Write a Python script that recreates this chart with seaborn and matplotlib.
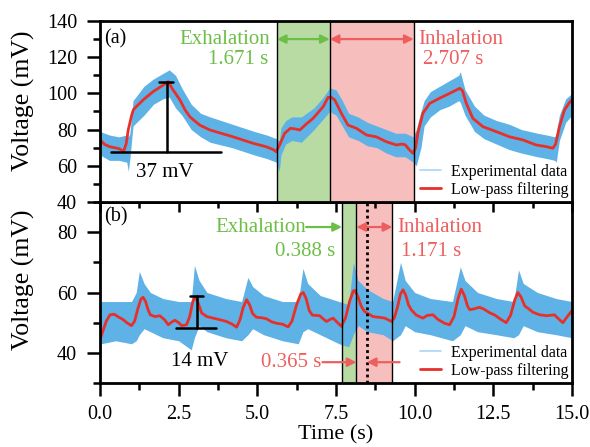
import numpy as np
import pandas as pd
import matplotlib
matplotlib.use("Agg")
import matplotlib.pyplot as plt
from matplotlib.lines import Line2D
import seaborn as sns

# ---------------- data ----------------
# Panel (a): low-pass filtered signal
a_t = [0.0, 0.15, 0.3, 0.6, 0.75, 0.83, 0.9, 1.0, 1.06, 1.2, 1.37, 1.69, 2.01, 2.17, 2.3, 2.54, 2.7,
       2.86, 3.17, 3.49, 4.23, 4.87, 5.29, 5.5, 5.6, 5.72, 5.87, 6.05, 6.2, 6.35, 6.55, 6.77, 7.09,
       7.25, 7.35, 7.46, 7.67, 7.88, 8.15, 8.47, 8.78, 9.1, 9.42, 9.6, 9.7, 9.84, 9.95, 10.03,
       10.1, 10.26, 10.48, 10.79, 11.11, 11.43, 11.52, 11.64, 11.85, 12.17, 12.59, 13.02, 13.44,
       13.86, 14.18, 14.39, 14.48, 14.6, 14.76, 14.9, 15.0]
a_filt = [74.3, 71.8, 70.6, 69.5, 68.0, 72.0, 80.0, 87.5, 91.0, 93.5, 96.4, 101.0, 104.6, 106.5, 102.5,
          96.4, 91.0, 87.0, 82.5, 79.8, 76.0, 72.4, 70.5, 69.0, 67.8, 72.0, 78.0, 80.7, 80.4, 79.8,
          83.0, 86.2, 92.6, 97.8, 97.8, 96.4, 89.0, 82.5, 80.7, 77.0, 76.0, 73.3, 71.5, 72.0, 71.6,
          68.7, 66.9, 70.0, 78.0, 89.0, 94.5, 97.3, 100.0, 102.8, 101.5, 94.5, 86.2, 81.6, 78.9,
          76.0, 74.3, 71.5, 70.6, 69.7, 72.0, 81.6, 90.8, 94.5, 96.5]
# Panel (a): envelope of the raw experimental data
a_band_t = [0.0, 0.3, 0.6, 0.85, 0.9, 0.95, 1.05, 1.4, 1.7, 2.0, 2.2, 2.4, 2.6, 2.9, 3.2, 3.5, 4.2,
            4.9, 5.3, 5.6, 5.7, 5.75, 5.9, 6.1, 6.4, 6.8, 7.1, 7.3, 7.5, 7.7, 7.9, 8.2, 8.5, 8.8,
            9.1, 9.4, 9.7, 9.95, 10.05, 10.2, 10.3, 10.5, 10.8, 11.1, 11.4, 11.45, 11.6, 11.9,
            12.2, 12.6, 13.0, 13.4, 13.9, 14.2, 14.45, 14.5, 14.6, 14.8, 15.0]
a_upper = [79, 77, 76, 77, 76, 78, 96, 104, 108, 111, 113, 110, 103, 94, 89, 87, 83,
           79, 77, 75, 74, 81, 85, 87, 87, 92, 98, 103, 102, 96, 89, 87, 84, 82,
           80, 78, 78, 76, 80, 90, 96, 101, 104, 107, 110, 112, 102, 93,
           88, 85, 83, 80, 78, 77, 76, 78, 88, 97, 100]
a_lower = [66, 63, 63, 62, 57, 64, 82, 88, 94, 97, 98, 92, 88, 80, 76, 73, 70,
           66, 64, 62, 57, 66, 72, 74, 73, 80, 86, 90, 88, 82, 76, 74, 71, 70,
           67, 65, 65, 62, 60, 70, 82, 87, 91, 93, 96, 95, 88, 79,
           75, 72, 69, 67, 65, 64, 63, 62, 74, 84, 88]

# Panel (b): low-pass filtered signal
b_t = [0.0, 0.1, 0.2, 0.32, 0.45, 0.6, 0.74, 0.85, 1.0, 1.1, 1.2, 1.3, 1.37, 1.45, 1.52, 1.6, 1.75,
       1.9, 2.05, 2.17, 2.28, 2.38, 2.5, 2.6, 2.75, 2.85, 2.95, 3.03, 3.12, 3.23, 3.4, 3.6, 3.8,
       4.02, 4.2, 4.34, 4.45, 4.55, 4.66, 4.75, 4.85, 4.97, 5.15, 5.29, 5.45, 5.61, 5.8, 5.98,
       6.1, 6.25, 6.38, 6.46, 6.55, 6.65, 6.75, 6.98, 7.1, 7.2, 7.3, 7.41, 7.55, 7.67, 7.8, 7.93,
       8.05, 8.1, 8.2, 8.3, 8.4, 8.55, 8.68, 8.85, 9.05, 9.15, 9.26, 9.35, 9.45, 9.55, 9.63,
       9.72, 9.8, 9.89, 10.05, 10.26, 10.4, 10.58, 10.75, 10.95, 11.11, 11.25, 11.38, 11.48,
       11.58, 11.68, 11.75, 11.9, 12.06, 12.2, 12.38, 12.55, 12.75, 12.91, 13.05, 13.18, 13.28,
       13.38, 13.5, 13.6, 13.75, 13.97, 14.2, 14.44, 14.6, 14.71, 14.85, 15.0]
b_filt = [44.4, 47.5, 50.5, 52.6, 52.8, 51.8, 51.0, 50.0, 49.0, 50.5, 54.5, 57.8, 58.4, 57.0, 54.5,
          52.6, 52.0, 52.3, 51.0, 49.3, 50.2, 50.8, 50.0, 49.0, 49.3, 52.0, 57.0, 58.7, 56.5, 53.2,
          52.0, 51.5, 51.0, 50.4, 49.5, 48.5, 51.0, 55.0, 57.6, 56.0, 53.0, 51.8, 51.6, 51.3, 50.3,
          49.8, 49.5, 48.6, 50.5, 56.0, 59.5, 60.0, 58.0, 54.0, 52.5, 52.3, 51.2, 50.4, 51.0, 51.5,
          50.0, 48.8, 51.5, 57.0, 60.5, 60.7, 58.5, 55.5, 53.8, 52.8, 52.0, 51.8, 51.5, 51.0, 50.4,
          51.5, 55.0, 59.5, 60.9, 59.0, 56.0, 54.3, 52.5, 51.5, 52.4, 52.6, 51.0, 49.8, 49.3, 52.0,
          58.0, 61.1, 59.0, 55.5, 54.3, 54.6, 55.1, 54.5, 53.3, 52.5, 51.0, 50.0, 52.5, 57.5, 60.0,
          58.5, 55.5, 54.8, 53.5, 52.6, 52.3, 52.6, 51.0, 50.0, 52.0, 54.0]
# Panel (b): envelope of the raw experimental data
b_band_t = [0.0, 0.03, 0.5, 1.0, 1.15, 1.25, 1.4, 1.6, 2.0, 2.5, 2.9, 3.0, 3.15, 3.4, 4.0, 4.5,
            4.7, 4.85, 5.2, 5.8, 6.3, 6.45, 6.6, 7.0, 7.6, 7.9, 8.05, 8.2, 8.5, 9.0, 9.3, 9.55,
            9.7, 10.0, 10.5, 11.2, 11.45, 11.6, 12.0, 12.6, 13.15, 13.3, 13.45, 13.9, 14.5, 15.0]
b_upper = [57, 57, 57, 57, 60, 67, 63, 60, 58, 57, 57, 69, 64, 60, 58, 57,
           65, 62, 59, 57, 57, 68, 63, 59, 57, 56, 70, 64, 61, 58, 57, 70,
           64, 60, 58, 57, 68.5, 64, 60, 58, 57, 67.5, 63, 60, 58, 57]
b_lower = [30, 43, 44, 43, 44, 46, 48, 47, 45, 44, 41, 45, 49, 47, 45, 44,
           46, 48, 46, 44, 43, 47, 48, 46, 43, 42, 46, 49, 47, 46, 44, 46,
           49, 47, 46, 44, 46, 49, 47, 46, 45, 46, 49, 47, 46, 45]

# phase boundaries (s)
a_phase = [5.62, 7.30, 9.97]
b_phase = [7.69, 8.15, 9.29]
b_dotted = 8.48

x_ticks = [0.0, 2.5, 5.0, 7.5, 10.0, 12.5, 15.0]
x_ticklabels = ['0.0', '2.5', '5.0', '7.5', '10.0', '12.5', '15.0']
a_yticks = [40, 60, 80, 100, 120, 140]
b_yticks = [40, 60, 80]

# ---------------- style ----------------
sns.set_style("ticks")
plt.rcParams['font.family'] = ['Liberation Serif', 'DejaVu Serif']
plt.rcParams.update({'axes.edgecolor': 'black', 'xtick.color': 'black', 'ytick.color': 'black',
                     'text.color': 'black', 'axes.labelcolor': 'black'})

BLUE = '#5FB2E6'
BLUE_LEG = '#A9D5F3'
RED = '#E8302A'
GREEN_TXT = '#6DBE47'
RED_TXT = '#EE5E5E'
GREEN_FILL = '#B8DBA3'
PINK_FILL = '#F7BEBE'

fig = plt.figure(figsize=(5.9, 4.47), dpi=100)
L, W = 100 / 590, 472 / 590
axa = fig.add_axes([L, 1 - 202 / 447, W, 181 / 447])
axb = fig.add_axes([L, 1 - 383 / 447, W, 181 / 447])
axb.patch.set_alpha(0)
axa.set_zorder(2)
axa.patch.set_alpha(1)

df_a = pd.DataFrame({'t': a_t, 'v': a_filt})
df_b = pd.DataFrame({'t': b_t, 'v': b_filt})

for ax, ph, bt, up, lo, df in [(axa, a_phase, a_band_t, a_upper, a_lower, df_a),
                               (axb, b_phase, b_band_t, b_upper, b_lower, df_b)]:
    ax.axvspan(ph[0], ph[1], color=GREEN_FILL, lw=0, zorder=0)
    ax.axvspan(ph[1], ph[2], color=PINK_FILL, lw=0, zorder=0)
    ax.fill_between(bt, lo, up, color=BLUE, lw=0, zorder=1)
    sns.lineplot(data=df, x='t', y='v', ax=ax, color=RED, lw=2, zorder=2)
    for p in ph:
        ax.axvline(p, color='k', lw=1, zorder=3)
    ax.set_xlim(0, 15)
    ax.set_xticks(x_ticks)
    ax.set_xticks(np.arange(1.25, 15, 2.5), minor=True)
    for s in ax.spines.values():
        s.set_linewidth(2)
        s.set_visible(True)
        s.set_color('black')
    ax.set_xlabel('')
    ax.set_ylabel('Voltage (mV)', fontsize=18.5, color='black')
    handles = [Line2D([], [], color=BLUE_LEG, lw=1.2), Line2D([], [], color=RED, lw=2)]
    ax.legend(handles, ['Experimental data', 'Low-pass filtering'], loc='lower right',
              frameon=False, fontsize=11.5, handlelength=1.3, handletextpad=0.6,
              labelspacing=0.15, borderpad=0.15, borderaxespad=0.1, labelcolor='black')
    ax.tick_params(which='major', direction='out', length=9.5, width=1.8, labelsize=14.5,
                   colors='black')
    ax.tick_params(which='minor', direction='out', length=5, width=1.8, colors='black')
    ax.tick_params(axis='y', which='major', pad=7)
    ax.tick_params(axis='x', which='major', pad=6)

axb.axvline(b_dotted, color='k', lw=2, ls=(0, (1, 1.2)), zorder=3)

# axes, ticks
axa.set_ylim(40, 140)
axa.set_yticks(a_yticks)
axa.set_yticks(np.arange(50, 140, 20), minor=True)
axa.tick_params(axis='x', which='both', labelbottom=False)
axa.tick_params(axis='x', which='major', length=7)
axa.tick_params(axis='x', which='minor', length=4)
axb.set_ylim(30, 90)
axb.set_yticks(b_yticks)
axb.set_yticks([30, 50, 70, 90], minor=True)
axb.set_xticklabels(x_ticklabels)
axb.set_xlabel('Time (s)', fontsize=16, labelpad=1, color='black')
axa.yaxis.set_label_coords(-0.138, 0.56)
axb.yaxis.set_label_coords(-0.138, 0.57)

# ---------------- annotations panel (a) ----------------
axa.text(0.12, 130, '(a)', fontsize=14.5, ha='left', va='center')
axa.text(5.4, 130, 'Exhalation', color=GREEN_TXT, fontsize=15, ha='right', va='center')
axa.text(5.35, 119, '1.671 s', color=GREEN_TXT, fontsize=15, ha='right', va='center')
axa.text(10.1, 130, 'Inhalation', color=RED_TXT, fontsize=15, ha='left', va='center')
axa.text(10.25, 119, '2.707 s', color=RED_TXT, fontsize=15, ha='left', va='center')
axa.annotate('', xy=(a_phase[0], 130), xytext=(a_phase[1], 130),
             arrowprops=dict(arrowstyle='<|-|>', color=GREEN_TXT, lw=1.6, mutation_scale=13,
                             shrinkA=0, shrinkB=0))
axa.annotate('', xy=(a_phase[1], 130), xytext=(a_phase[2], 130),
             arrowprops=dict(arrowstyle='<|-|>', color=RED_TXT, lw=1.6, mutation_scale=13,
                             shrinkA=0, shrinkB=0))
axa.plot([2.12, 2.12], [67.8, 106.5], color='k', lw=1.8, zorder=4)
axa.plot([1.88, 2.33], [106.5, 106.5], color='k', lw=1.8, zorder=4)
axa.plot([0.35, 3.83], [67.8, 67.8], color='k', lw=1.8, zorder=4)
axa.text(2.05, 56.5, '37 mV', fontsize=15, ha='center', va='center')

# ---------------- annotations panel (b) ----------------
axb.text(0.12, 85, '(b)', fontsize=14.5, ha='left', va='center')
axb.text(6.55, 81.7, 'Exhalation', color=GREEN_TXT, fontsize=15, ha='right', va='center')
axb.annotate('', xy=(b_phase[0], 81.7), xytext=(6.55, 81.7),
             arrowprops=dict(arrowstyle='-|>', color=GREEN_TXT, lw=1.6, mutation_scale=13,
                             shrinkA=0, shrinkB=0))
axb.text(7.47, 73.6, '0.388 s', color=GREEN_TXT, fontsize=15, ha='right', va='center')
axb.annotate('', xy=(b_phase[1], 81.7), xytext=(b_phase[2], 81.7),
             arrowprops=dict(arrowstyle='<|-|>', color=RED_TXT, lw=1.6, mutation_scale=13,
                             shrinkA=0, shrinkB=0))
axb.text(9.46, 81.7, 'Inhalation', color=RED_TXT, fontsize=15, ha='left', va='center')
axb.text(9.57, 73.6, '1.171 s', color=RED_TXT, fontsize=15, ha='left', va='center')
axb.text(7.05, 36.9, '0.365 s', color=RED_TXT, fontsize=15, ha='right', va='center')
axb.annotate('', xy=(b_phase[1], 36.9), xytext=(7.07, 36.9),
             arrowprops=dict(arrowstyle='-|>', color=RED_TXT, lw=1.6, mutation_scale=13,
                             shrinkA=0, shrinkB=0))
axb.annotate('', xy=(b_dotted, 36.9), xytext=(9.52, 36.9),
             arrowprops=dict(arrowstyle='-|>', color=RED_TXT, lw=1.6, mutation_scale=13,
                             shrinkA=0, shrinkB=0))
axb.plot([3.07, 3.07], [48.2, 58.9], color='k', lw=1.8, zorder=4)
axb.plot([2.86, 3.28], [58.9, 58.9], color='k', lw=1.8, zorder=4)
axb.plot([2.4, 3.7], [48.2, 48.2], color='k', lw=1.8, zorder=4)
axb.text(3.17, 37.2, '14 mV', fontsize=15, ha='center', va='center')

fig.savefig('out.png', dpi=100)
